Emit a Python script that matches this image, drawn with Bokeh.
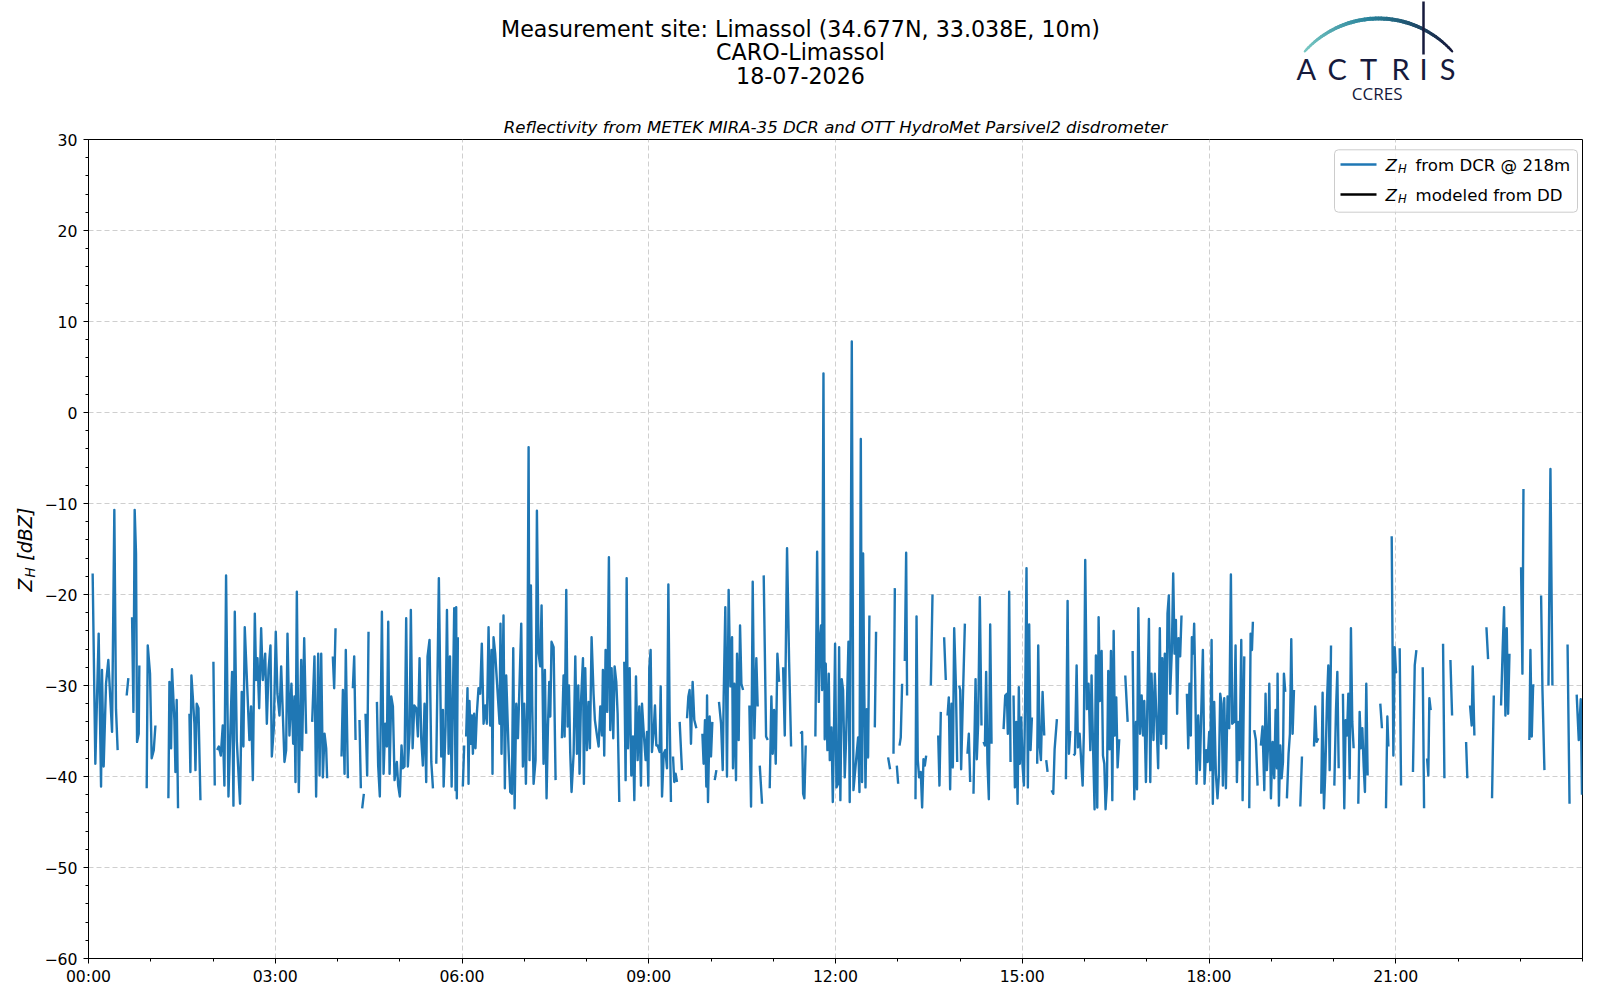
import numpy as np
from bokeh.plotting import figure
from bokeh.models import Range1d, FixedTicker, Label, ColumnDataSource, Title
from bokeh.layouts import column, row
from bokeh.embed import file_html
from bokeh.resources import INLINE
from bokeh.core.properties import value

# ---------------- data: (minutes after 00:00 UTC, Z_H dBZ); None = gap ----------------
blk_a = [
    (4.0, -17.7), (6.6, -38.6), (9.8, -24.3), (12.1, -41.1), (13.0, -28.3), (14.6, -38.9), (16.9, -29.8),
    (19.1, -27.2), (22.7, -35.1), (24.9, -10.7), (26.5, -32.6), (28.1, -37.1), None,
    (36.8, -31.1), (38.4, -29.2), None,
    (42.0, -22.5), (43.3, -32.9), (44.5, -10.7), (45.8, -15.5), (46.8, -36.2), (48.4, -35.3), (49.0, -27.8), None,
    (56.1, -41.3), (57.1, -25.6), (59.3, -28.7), (60.9, -38.0), (62.9, -37.1), (64.5, -34.4), None,
    (77.0, -42.4), (78.0, -29.6), (79.6, -36.9), (80.5, -28.2), (82.8, -33.8), (83.8, -39.5), (85.0, -31.6), (86.3, -43.5), None,
    (97.3, -33.1), (98.2, -39.5), (99.2, -28.9), (100.5, -31.2), (102.1, -34.2), (103.1, -39.3), (104.3, -32.0),
    (106.0, -32.5), (107.9, -42.6), None,
    (120.4, -27.4), (121.7, -41.0), None,
    (124.0, -37.1), (125.6, -36.7), (127.5, -37.7), (129.4, -34.4), (131.0, -41.0), (132.6, -17.9), (134.9, -42.2),
    (138.4, -28.5), (139.7, -43.2), (141.0, -21.9), (142.9, -36.0), (146.1, -43.0), (147.7, -30.7), (149.3, -36.7),
    (150.6, -23.6), (155.1, -36.0), (156.7, -32.3), (158.4, -40.4), (160.3, -22.1), (161.6, -29.4), (162.9, -27.0),
    (164.5, -32.5), (166.4, -23.7), (168.0, -29.4), (170.3, -26.5), (171.9, -34.2), (173.5, -28.3), (175.4, -25.6),
    (176.7, -37.8), (178.6, -34.7), (180.5, -24.1), (182.1, -30.9), (184.1, -33.3), (185.7, -27.9), (187.3, -33.1),
    (188.9, -38.4), (190.5, -37.1), (191.8, -24.3), (193.7, -35.5), (195.6, -29.8), (197.3, -36.4), (198.5, -31.2),
    (199.5, -40.6), (200.8, -19.7), (202.7, -41.7), (205.0, -27.2), (205.9, -37.1), (207.9, -24.8), (209.8, -35.3), None,
    (215.6, -34.0), (217.8, -26.8), (219.4, -42.2), (221.4, -26.5), (222.7, -39.9), (224.3, -26.5), (225.9, -40.1),
    (227.5, -35.3), (229.1, -36.9), (230.0, -40.2), None,
    (235.5, -26.8), (236.8, -30.3), (238.1, -23.7), None,
    (243.9, -37.8), (245.2, -30.5), (246.8, -39.7), (248.0, -26.1), (250.0, -40.2), None,
    (254.8, -30.3), (256.1, -26.8), (257.4, -36.0), None,
    (261.2, -33.8), (262.5, -41.3), None,
    (263.8, -43.5), (265.4, -41.9), None,
    (267.0, -33.1), (268.6, -39.9), (269.9, -24.1), None,
    (278.0, -31.8), (279.2, -38.8), (280.8, -42.2), (282.8, -21.9), (284.4, -39.7), (286.0, -34.2), (287.6, -36.7),
    (288.9, -23.0), (290.2, -39.7), (291.8, -31.2), (293.4, -32.3), (295.0, -40.4), (297.2, -38.4), (298.5, -41.0),
    (300.1, -42.2), (301.7, -36.6), (303.0, -39.1), (304.6, -38.9), (306.2, -22.6), (307.8, -38.9), (309.5, -35.3),
    (310.7, -21.7), (312.4, -36.9), (314.0, -32.2), (315.9, -32.5), (317.5, -35.6), (319.1, -27.0), (320.7, -35.8),
    (322.3, -38.8), (323.9, -32.0), (325.5, -40.6), (326.8, -26.8), (328.7, -25.0), (330.4, -38.4), (332.0, -41.3), None,
    (335.2, -38.6), (337.7, -18.2), (340.0, -37.8), (341.6, -32.7), (342.3, -41.1), (344.2, -34.4), (345.5, -21.7),
    (347.1, -37.5), (348.4, -26.8), (350.0, -41.1), (352.5, -21.5), (353.8, -41.5),
]

blk_b = [
    (354.4, -21.4), (355.0, -42.4), (356.0, -24.7), None,
    (360.8, -41.1), (362.1, -36.6), None,
    (364.0, -35.6), (365.3, -30.3), (366.3, -40.8), (367.2, -31.7), (368.5, -36.4), (369.5, -33.3), (370.5, -37.5),
    (371.7, -33.1), (373.0, -36.9), (374.3, -33.1), (375.9, -30.3), (377.5, -30.9), (379.1, -25.4), (380.8, -34.2),
    (382.4, -32.2), (384.0, -34.2), (385.6, -23.6), (387.2, -34.4), (388.5, -26.1), (389.4, -39.7), (390.4, -24.7),
    (392.0, -26.5), (396.2, -34.2), (397.1, -23.2), (398.1, -37.5), (400.0, -22.3), (401.3, -41.3), (402.6, -28.9),
    (404.9, -37.1), (406.5, -41.7), (408.1, -41.9), (409.4, -25.9), (410.7, -43.5), (412.3, -32.0), (413.9, -35.8),
    (415.1, -31.2), (417.1, -23.2), (418.7, -38.9), (420.0, -32.0), (421.6, -40.8), (422.9, -32.0), (424.2, -3.8),
    (425.1, -38.2), (426.4, -19.0), (427.7, -32.3), (429.0, -40.8), (430.9, -38.2), (432.2, -10.8), (433.8, -26.5),
    (435.4, -27.9), (436.7, -21.2), (438.6, -38.6), (439.9, -28.3), (441.5, -42.4), (442.8, -34.7), (444.1, -29.6),
    (445.1, -33.4), (446.3, -25.2), (448.3, -25.8), (450.2, -40.4), None,
    (456.3, -35.8), (457.9, -28.9), (458.9, -35.6), (460.5, -19.5), (461.8, -34.5), (463.1, -30.0), (464.3, -37.3),
    (465.6, -41.7), (467.6, -37.5), (469.2, -26.8), (470.8, -37.5), (472.1, -30.0), (473.3, -39.7), (474.6, -32.0),
    (476.6, -27.0), (477.5, -40.8), (478.8, -28.1), (480.4, -37.1), (482.0, -31.8), (483.3, -36.9), (484.9, -24.7),
    (486.8, -30.9), (488.1, -33.8), (490.1, -35.5), (491.7, -36.7), (493.3, -32.3), (494.9, -35.5), (495.8, -28.3),
    (497.1, -37.7), (498.4, -26.1), (500.0, -32.9), (501.6, -15.9), (502.9, -34.9), (504.2, -28.1), (505.8, -35.8),
    (507.1, -27.9), (508.7, -29.6), (510.0, -33.1), (511.6, -42.8), None,
    (516.4, -27.4), (517.7, -40.4), (518.7, -18.2), (520.0, -36.9), (521.6, -28.1), (523.2, -39.9), (524.8, -35.6),
    (526.1, -42.6), (527.7, -29.0), (529.3, -38.2), (530.9, -32.3), (532.5, -41.0), (533.5, -32.0), (535.1, -35.1),
    (537.0, -38.2), (538.3, -35.1), (539.6, -41.0), (540.5, -28.1), (541.8, -26.1), (543.1, -37.3), (544.7, -35.1),
    (546.0, -32.2), (547.3, -36.6), (548.6, -36.6), (550.5, -37.3), (551.5, -30.1), (552.8, -42.2), (554.4, -37.5),
    (556.0, -37.1), (557.6, -39.1), (558.9, -18.9), (560.1, -32.9), (561.4, -42.8), None,
    (563.4, -37.8), (564.6, -40.6), (565.9, -39.7), (567.2, -40.6), None,
    (569.8, -34.0), (572.0, -39.3), None,
    (576.9, -33.6), (578.2, -31.2), (579.4, -30.5), (580.7, -36.4), (582.3, -29.6), (583.9, -33.8), (585.9, -34.7), None,
    (591.7, -35.3), (592.9, -38.6), (594.2, -33.8), (595.5, -41.1), (596.2, -31.1), (597.1, -42.8), (598.7, -33.4),
    (600.0, -37.8), (601.3, -34.0), None,
    (603.6, -40.4), (605.2, -39.3), None,
    (607.7, -31.8), (609.7, -34.2), (611.3, -39.3), (612.2, -31.4), (613.8, -21.4), (615.4, -40.0), (617.0, -19.5),
    (618.7, -30.1), (620.3, -24.7), (621.2, -39.1), (622.5, -29.8), (624.1, -40.4), (625.1, -26.5), (626.7, -36.0),
    (628.0, -23.4), (629.3, -29.8), (630.9, -30.5), None,
    (637.0, -32.2), (638.6, -43.3), (640.2, -18.6), (641.8, -35.8), (643.7, -27.0), (645.0, -32.3), None,
    (647.0, -38.8), (649.2, -43.0), None,
    (650.8, -17.9), (653.1, -35.6), (654.7, -36.0), None,
    (656.6, -41.3), (658.2, -31.2), (659.5, -37.5), (660.8, -32.7), (662.4, -38.6), (664.0, -26.5), (665.6, -29.6), None,
    (669.5, -28.0), (671.1, -35.5), (673.3, -14.9), (675.3, -27.4), (677.2, -36.7), None,
    (686.2, -35.3), (687.8, -35.1), (688.8, -41.9), (690.0, -42.4), (691.3, -36.6), None,
    (700.6, -35.6), (702.3, -15.3), (703.9, -31.8),
]

blk_c = [
    (704.8, -25.2), (706.1, -23.4), (707.1, -30.5), (708.4, 4.3), (709.6, -35.9), (710.6, -27.6), (712.2, -37.1),
    (713.5, -28.7), (714.5, -38.2), (716.1, -34.6), (717.4, -42.8), (718.6, -34.6), (719.6, -25.4), (720.9, -41.2),
    (722.5, -40.8), (723.5, -25.8), (724.7, -42.6), (726.0, -29.3), (727.3, -30.5), (728.9, -40.1), (730.2, -36.0),
    (732.5, -25.2), (733.7, -42.8), (735.7, 7.8), (737.3, -41.5), (741.8, -35.7), (743.1, -41.7), (744.4, -2.9),
    (745.6, -40.6), (746.6, -15.5), (747.6, -29.4), (748.9, -41.2), (750.1, -32.6), (751.4, -37.9), (752.7, -22.3), None,
    (757.9, -34.6), (759.1, -24.1), None,
    (770.7, -37.9), (772.6, -39.2), None,
    (775.9, -37.5), (777.2, -19.3), None,
    (779.1, -38.8), (780.4, -40.8), None,
    (781.7, -36.6), (782.9, -35.7), (784.2, -29.8), None,
    (786.8, -27.3), (788.1, -15.4), (789.0, -31.1), None,
    (797.1, -42.5), (798.1, -22.4), (799.3, -38.2), (800.6, -40.1), (802.2, -39.5), (803.5, -43.4), (804.8, -38.1),
    (806.1, -38.8), (807.4, -37.7), None,
    (811.9, -30.0), (813.5, -20.0), None,
    (819.0, -35.5), (820.2, -41.0), (821.5, -32.9), None,
    (824.7, -24.7), (826.3, -29.4), None,
    (828.0, -33.3), (829.2, -31.3), (830.5, -41.4), (831.8, -32.0), (833.1, -39.0), (834.4, -23.7), (836.0, -29.8),
    (837.3, -38.4), None,
    (839.2, -30.0), (840.2, -30.5), (841.1, -39.2), (842.7, -31.8), (844.7, -23.2), None,
    (847.2, -37.5), (848.5, -35.3), (849.8, -40.6), None,
    (853.0, -41.9), (855.0, -29.3), (856.2, -38.1), (857.5, -34.2), (859.1, -20.3), (860.7, -34.4), None,
    (862.7, -36.2), (864.0, -36.6), (865.2, -28.5), (866.5, -38.6), (867.8, -42.5), (869.1, -23.3), (870.4, -36.4), None,
    (882.0, -34.8), (883.6, -31.1), (885.2, -30.9), (886.1, -35.3), (887.4, -19.7), (888.7, -38.4), None,
    (891.6, -31.1), (892.9, -41.2), (894.2, -34.0), (895.5, -43.0), (896.7, -30.2), (897.7, -38.6), (899.0, -33.5),
    (900.3, -38.8), (901.6, -41.0), (902.9, -30.7), (904.1, -17.1), (905.4, -41.2), (906.7, -23.3), (908.0, -37.1),
    (909.3, -33.5), None,
    (914.4, -38.6), (915.4, -25.6), (916.7, -36.6), (918.0, -38.2), (919.6, -30.7), (921.2, -35.5), None,
    (923.1, -38.2), (924.4, -39.5), None,
    (928.3, -41.5), (929.9, -41.9), (931.2, -37.0), (933.4, -33.7), None,
    (942.1, -40.3), (943.7, -20.7), (945.0, -37.5), (946.3, -35.0), None,
    (949.5, -37.7), (950.8, -37.5), (952.4, -27.8), (953.7, -36.8), (955.3, -35.3), (958.2, -41.0), (959.4, -35.1),
    (960.7, -16.2), (962.3, -32.6), (963.9, -29.8), (965.6, -37.1), (966.8, -28.9), (968.4, -37.5), (969.7, -43.6),
    (971.0, -26.7), (972.3, -43.4), (973.6, -22.5), (974.9, -31.7), (976.5, -26.2), (977.8, -37.7), (979.1, -38.6),
    (980.3, -43.6), (981.6, -41.0), (982.9, -28.4), (984.2, -37.0), (985.5, -26.2), (986.8, -42.6), (988.1, -24.0),
    (989.3, -35.5), (990.6, -31.3), (991.9, -39.0), (993.5, -35.9), None,
    (999.3, -28.9), (1001.6, -34.0), None,
    (1006.4, -26.2), (1008.0, -42.5), (1009.6, -34.0), (1010.6, -41.4), (1011.9, -21.5), (1013.5, -35.3),
    (1015.1, -31.1), (1016.4, -35.5), (1017.6, -31.7), (1019.2, -40.6), (1022.1, -22.7), (1023.4, -40.6),
]

blk_d = [
    (1024.6, -28.7), (1026.5, -36.0), (1027.8, -28.7), (1029.4, -33.8), (1031.0, -39.1), (1032.6, -23.7),
    (1033.9, -36.4), (1034.9, -27.0), (1036.2, -35.3), (1037.4, -26.5), (1038.7, -36.9), (1040.0, -22.1),
    (1041.3, -20.1), (1042.6, -30.9), (1044.2, -26.1), (1045.5, -17.7), (1046.8, -26.5), (1048.1, -22.8),
    (1049.3, -33.1), (1050.6, -24.8), (1052.2, -26.8), (1053.5, -22.3), None,
    (1058.7, -30.9), (1060.0, -36.9), (1061.2, -29.8), (1062.5, -35.5), (1063.5, -24.7), (1064.8, -26.5),
    (1065.7, -23.2), (1066.7, -29.4), (1068.0, -40.8), (1069.6, -33.3), (1071.2, -39.3), (1072.5, -33.1),
    (1074.1, -26.1), (1075.7, -40.8), (1077.3, -37.1), (1078.6, -38.4), (1080.2, -35.1), (1081.2, -39.3),
    (1082.5, -25.0), (1083.7, -43.0), (1085.0, -31.8), (1086.6, -39.7), (1088.2, -42.4), (1089.5, -39.9),
    (1090.8, -30.9), (1092.1, -32.0), (1093.4, -41.0), (1094.7, -31.4), (1096.3, -41.3), (1097.9, -31.2),
    (1099.5, -34.7), (1101.1, -17.8), (1102.4, -34.2), (1104.3, -34.0), (1105.6, -25.6), (1106.9, -40.6),
    (1108.2, -34.0), (1109.5, -38.2), (1111.1, -25.0), (1112.4, -42.6), (1114.0, -26.8), None,
    (1118.8, -43.5), (1120.1, -24.3), (1121.4, -26.1), (1122.3, -23.0), None,
    (1123.6, -34.9), (1125.2, -36.0), (1126.8, -41.0), None,
    (1130.0, -36.6), (1131.6, -34.5), (1133.3, -41.5), (1134.5, -30.9), (1135.8, -39.3), (1137.1, -36.2),
    (1138.1, -29.8), (1139.7, -42.4), (1141.3, -36.2), (1142.9, -40.2), (1144.2, -32.7), (1145.5, -39.1),
    (1146.1, -28.7), (1147.4, -43.2), (1148.7, -36.6), (1150.0, -40.2), (1151.3, -38.4), (1152.2, -28.7),
    (1153.5, -30.7), None,
    (1155.1, -42.4), (1156.7, -37.5), (1158.0, -35.3), (1159.3, -24.9), (1160.6, -35.3), (1161.9, -30.5), None,
    (1168.0, -43.3), (1169.6, -37.8), None,
    (1181.2, -36.7), (1182.4, -32.3), (1183.7, -36.2), (1185.3, -35.8), None,
    (1188.2, -41.9), (1189.5, -30.8), (1190.8, -43.5), (1192.1, -39.5), (1193.7, -31.8), (1195.0, -27.8),
    (1196.3, -39.3), (1197.6, -25.6), None,
    (1200.8, -41.0), (1202.4, -32.7), (1203.7, -28.5), (1205.0, -39.1), None,
    (1209.1, -30.9), (1210.4, -43.5), (1211.7, -33.8), (1213.0, -35.5), (1214.3, -30.9), (1215.6, -40.2),
    (1216.8, -23.7), (1218.1, -34.0), (1219.4, -36.9), None,
    (1223.9, -43.0), (1225.2, -32.9), (1226.5, -36.9), (1227.8, -34.7), (1229.1, -38.9), (1230.3, -41.7),
    (1231.6, -29.8), (1232.9, -39.9), None,
    (1245.1, -32.0), (1246.7, -34.7), None,
    (1250.6, -43.5), (1251.9, -33.4), (1252.9, -36.7), None,
    (1256.1, -13.6), (1257.7, -37.7), (1259.0, -25.8), (1260.2, -28.5), (1261.2, -28.6), None,
    (1263.8, -25.9), (1265.1, -41.0), None,
    (1276.6, -39.5), (1278.3, -27.8), (1279.9, -26.1), None,
    (1286.0, -28.0), (1287.3, -43.5), None,
    (1290.2, -38.0), (1291.4, -39.9), (1292.4, -31.4), (1293.7, -32.7), None,
    (1305.6, -25.4), (1306.9, -40.2), None,
    (1312.7, -27.2), (1314.3, -33.3), None,
    (1327.8, -36.2), (1329.0, -40.2), None,
    (1331.6, -32.2), (1333.2, -34.4), (1334.2, -27.9), (1335.8, -35.5), None,
    (1347.4, -23.6), (1349.0, -27.1), None,
    (1352.8, -42.4), (1354.5, -31.1), None,
    (1361.5, -32.2), (1363.1, -25.8), (1364.4, -21.4), (1365.7, -33.3), (1367.0, -23.7), (1368.3, -33.1),
    (1369.6, -26.5), None,
    (1380.8, -17.0), (1382.1, -28.7), (1383.1, -8.4), None,
    (1388.8, -36.0), (1389.8, -26.1), (1391.1, -35.6), (1392.4, -30.0), (1393.7, -30.0), None,
    (1400.1, -20.1), (1401.4, -30.5), (1403.3, -39.3), None,
    (1407.2, -30.0), (1409.1, -6.2), (1411.0, -30.0), None,
    (1425.6, -25.5), (1427.5, -43.0), None,
    (1434.4, -31.0), (1436.4, -36.0), (1438.3, -31.5), (1439.5, -42.0),
]

x_tick_hours = [0, 3, 6, 9, 12, 15, 18, 21]
x_tick_labels = ["00:00", "03:00", "06:00", "09:00", "12:00", "15:00", "18:00", "21:00"]
y_ticks = [-60, -50, -40, -30, -20, -10, 0, 10, 20, 30]
y_tick_labels = ["\u221260", "\u221250", "\u221240", "\u221230", "\u221220", "\u221210", "0", "10", "20", "30"]

title_lines = ["Measurement site: Limassol (34.677N, 33.038E, 10m)", "CARO-Limassol", "18-07-2026"]
subtitle = "Reflectivity from METEK MIRA-35 DCR and OTT HydroMet Parsivel2 disdrometer"
legend_rest = ["from DCR @ 218m", "modeled from DD"]

# ---------------- build series ----------------
hours, zh = [], []
for blk in (blk_a, blk_b, blk_c, blk_d):
    for item in blk:
        if item is None:
            hours.append(np.nan); zh.append(np.nan)
        else:
            hours.append(item[0] / 60.0); zh.append(item[1])
src = ColumnDataSource(dict(h=hours, z=zh))

FONT = value("DejaVu Sans")
NAVY = "#161a3c"
HDR_H = 109
MAIN_H = 879

# ---------------- header (titles + logo), page pixel coordinates ----------------
hdr = figure(width=1600, height=HDR_H, x_range=Range1d(0, 1600), y_range=Range1d(HDR_H, 0),
             output_backend="svg", toolbar_location=None, min_border=0,
             x_axis_type=None, y_axis_type=None, outline_line_color=None)
hdr.grid.visible = False
hdr.text(x=[800, 800, 800], y=[28.6, 51.0, 74.5], text=title_lines, text_font=FONT,
         text_font_size="22.2px", text_align="center", text_baseline="middle", text_color="black")

th = np.linspace(np.radians(138), np.radians(42), 61)
ax_ = 1378 + 99 * np.cos(th)
ay_ = 117 - 99 * np.sin(th)
f = np.linspace(0, 1, 60)
c0, c1, c2 = np.array([120, 200, 195]), np.array([40, 130, 155]), np.array([22, 26, 60])
cols = []
for v in f:
    c = c0 + (c1 - c0) * (v / 0.45) if v < 0.45 else c1 + (c2 - c1) * ((v - 0.45) / 0.55)
    cols.append("#%02x%02x%02x" % tuple(int(round(k)) for k in c))
widths = 1.2 + 2.8 * np.sin(np.pi * (0.15 + 0.7 * f))
hdr.segment(x0=ax_[:-1], y0=ay_[:-1], x1=ax_[1:], y1=ay_[1:], line_color=cols, line_width=widths,
            line_cap="round")
hdr.segment(x0=[1423], y0=[1], x1=[1423], y1=[54], line_color=NAVY, line_width=2.5)
hdr.text(x=[1305.7, 1336.7, 1368.0, 1400.0, 1423.0, 1447.0], y=[68.0] * 6,
         text=["A", "C", "T", "R", "I", "S"], text_font=value("Lato"), text_font_size="29px",
         text_align="center", text_baseline="middle", text_color=NAVY)
hdr.text(x=[1376.7], y=[93], text=["CCRES"], text_font=value("Open Sans"), text_font_size="17px",
         text_align="center", text_baseline="middle", text_color=NAVY)

# ---------------- y-axis label strip (page pixel coords, y negated) ----------------
yl = figure(width=40, height=MAIN_H, x_range=Range1d(0, 40), y_range=Range1d(-(HDR_H + MAIN_H), -HDR_H),
            output_backend="svg", toolbar_location=None, min_border=0,
            x_axis_type=None, y_axis_type=None, outline_line_color=None)
yl.grid.visible = False
ang = np.pi / 2
yl.text(x=[24.0], y=[-594], text=["Z"], angle=ang, text_font=FONT, text_font_style="italic",
        text_font_size="19px", text_align="left", text_baseline="middle", text_color="black")
yl.text(x=[29.0], y=[-579], text=["H"], angle=ang, text_font=FONT, text_font_style="italic",
        text_font_size="13.5px", text_align="left", text_baseline="middle", text_color="black")
yl.text(x=[24.0], y=[-561], text=["[dBZ]"], angle=ang, text_font=FONT, text_font_style="italic",
        text_font_size="19px", text_align="left", text_baseline="middle", text_color="black")

# ---------------- main plot ----------------
p = figure(width=1560, height=MAIN_H, x_range=Range1d(0, 24), y_range=Range1d(-60, 30),
           output_backend="svg", toolbar_location=None,
           min_border_left=48, min_border_right=18, min_border_top=30, min_border_bottom=30)
p.outline_line_color = "black"
p.outline_line_width = 1
p.add_layout(Title(text=subtitle, align="center", text_font="DejaVu Sans", text_font_style="italic",
                   text_font_size="16.6px", text_color="black", standoff=6), "above")

p.line(x="h", y="z", source=src, line_color="#1f77b4", line_width=2.4, line_join="round")

p.xaxis.ticker = FixedTicker(ticks=x_tick_hours, minor_ticks=list(range(0, 25)))
p.xaxis.major_label_overrides = {h: l for h, l in zip(x_tick_hours, x_tick_labels)}
p.yaxis.ticker = FixedTicker(ticks=y_ticks, minor_ticks=list(range(-60, 31, 2)))
p.yaxis.major_label_overrides = {v: l for v, l in zip(y_ticks, y_tick_labels)}
for ax in (p.xaxis, p.yaxis):
    ax.axis_line_color = "black"
    ax.major_tick_line_color = "black"
    ax.minor_tick_line_color = "black"
    ax.major_tick_out = 5
    ax.major_tick_in = 0
    ax.minor_tick_out = 3
    ax.minor_tick_in = 0
    ax.major_label_text_font = "DejaVu Sans"
    ax.major_label_text_font_size = "15.7px"
    ax.major_label_text_color = "black"
p.xaxis.major_label_standoff = 3
p.yaxis.major_label_standoff = 6
for g in (p.xgrid, p.ygrid):
    g.grid_line_color = "#cfcfcf"
    g.grid_line_dash = "5 3"
    g.grid_line_width = 1

# page pixel -> data helpers (frame spans x 88..1582, y 139..958)
def X(px):
    return (px - 88) / 62.25

def Y(py):
    return 30 - (py - 139) / 9.1

# legend (box drawn as glyph above the data, then keys, then labels)
p.quad(left=[X(1334)], right=[X(1577)], top=[Y(149.3)], bottom=[Y(211.7)], fill_color="white",
       fill_alpha=0.8, line_color="#cccccc", line_width=1, border_radius=4)
p.segment(x0=[X(1340), X(1340)], y0=[Y(164), Y(194)], x1=[X(1376), X(1376)], y1=[Y(164), Y(194)],
          line_color=["#1f77b4", "black"], line_width=2.4)
for mid, rest in ((164.5, legend_rest[0]), (194.5, legend_rest[1])):
    p.add_layout(Label(x=X(1385), y=Y(mid), text="Z", text_font="DejaVu Sans", text_font_style="italic",
                       text_font_size="16.6px", text_align="left", text_baseline="middle", text_color="black"))
    p.add_layout(Label(x=X(1397.5), y=Y(mid + 4), text="H", text_font="DejaVu Sans", text_font_style="italic",
                       text_font_size="11.6px", text_align="left", text_baseline="middle", text_color="black"))
    p.add_layout(Label(x=X(1415), y=Y(mid), text=rest, text_font="DejaVu Sans",
                       text_font_size="16.6px", text_align="left", text_baseline="middle", text_color="black"))

layout = column(hdr, row(yl, p, spacing=0), spacing=0)
open("out.html", "w").write(file_html(layout, INLINE))
